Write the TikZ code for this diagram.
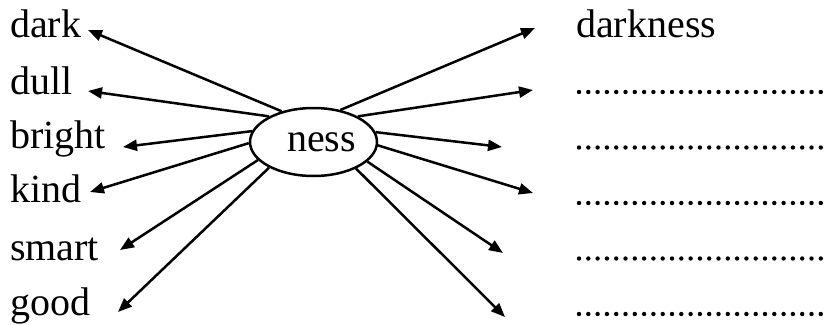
\documentclass[tikz,border=0pt]{standalone}
\usepackage{fontspec}
\setmainfont{Liberation Serif}
\usetikzlibrary{shapes.geometric,arrows.meta}
\tikzset{
  word/.style={anchor=base west,inner sep=0pt,font=\fontsize{40}{44}\selectfont},
  conn/.style={line width=2.5pt,-{Triangle[length=14pt,width=11pt]}},
  blank/.style={line width=4.4pt,line cap=round,dash pattern=on 0pt off 9.3pt},
}
\begin{document}
\begin{tikzpicture}[x=1pt,y=-1pt]
\useasboundingbox (0,0) rectangle (824,324);
\node[draw,line width=2.5pt,ellipse,minimum width=127pt,minimum height=68pt,inner sep=0pt,
  font=\fontsize{40}{44}\selectfont] (ness) at (313.5,142) {\hspace*{16pt}ness};
% left words
\node[word] (w1) at (10,37) {dark};
\node[word] (w2) at (10,94) {dull};
\node[word] (w3) at (10,148) {bright};
\node[word] (w4) at (10,202) {kind};
\node[word] (w5) at (10,260) {smart};
\node[word] (w6) at (10,315) {good};
\node[word] (r1) at (576,37) {darkness};
% left arrow tips
\coordinate (l1) at (88,30);
\coordinate (l2) at (88,91);
\coordinate (l3) at (123,147);
\coordinate (l4) at (90,192);
\coordinate (l5) at (120,250);
\coordinate (l6) at (118,312);
% right arrow tips
\coordinate (q1) at (535,28);
\coordinate (q2) at (533,90);
\coordinate (q3) at (502,147);
\coordinate (q4) at (533,193);
\coordinate (q5) at (503,253);
\coordinate (q6) at (505,317);
\draw[conn] (ness.136) -- (l1);
\draw[conn] (ness.150) -- (l2);
\draw[conn] (ness.170) -- (l3);
\draw[conn] (ness.181) -- (l4);
\draw[conn] (ness.198) -- (l5);
\draw[conn] (ness.210) -- (l6);
\draw[conn] (ness.50) -- (q1);
\draw[conn] (ness.30) -- (q2);
\draw[conn] (ness.9) -- (q3);
\draw[conn] (ness.-3) -- (q4);
\draw[conn] (ness.-20) -- (q5);
\draw[conn] (ness.-32) -- (q6);
% blanks
\foreach \y in {92,147.5,203,258.5,314}
  \draw[blank] (579,\y) -- (830,\y);
\end{tikzpicture}
\end{document}
